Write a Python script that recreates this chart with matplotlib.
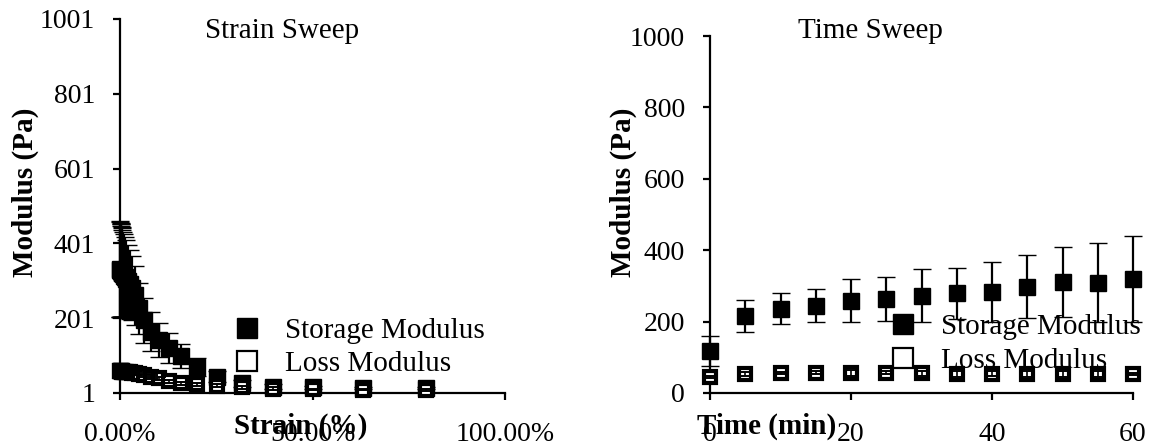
import matplotlib
matplotlib.use("Agg")
import matplotlib.pyplot as plt
from matplotlib.lines import Line2D

plt.rcParams['font.family'] = ['Liberation Serif', 'DejaVu Serif']

# strain sweep (strain in %, moduli in Pa)
strain = [0.1, 0.126, 0.158, 0.2, 0.251, 0.316, 0.398, 0.501, 0.631, 0.794,
          1.0, 1.26, 1.58, 2.0, 2.51, 3.16, 3.98, 5.01, 6.31, 7.94,
          10.0, 12.6, 15.8, 20.0, 25.1, 31.6, 39.8, 50.1, 63.1, 79.4]
strain_storage = [332, 331, 330, 329, 328, 326, 325, 323, 321, 318,
                  315, 311, 306, 300, 292, 282, 262, 228, 195, 165,
                  142, 122, 100, 70, 45, 27, 18, 16, 15, 14]
strain_storage_err = [128, 127, 126, 125, 124, 122, 121, 119, 117, 114,
                      111, 107, 103, 98, 92, 86, 78, 68, 60, 52,
                      46, 40, 33, 24, 15, 9, 6, 4, 3, 3]
strain_loss = [59, 59, 59, 59, 59, 59, 59, 59, 58, 58,
               58, 58, 57, 57, 56, 55, 54, 53, 48, 44,
               40, 33, 27, 24, 21, 16, 13, 11, 10, 9]
strain_loss_err = [6, 6, 6, 6, 6, 6, 6, 6, 6, 6,
                   6, 6, 5, 5, 5, 5, 5, 5, 5, 5,
                   5, 4, 4, 4, 4, 3, 3, 2, 2, 2]

# time sweep (time in min, moduli in Pa)
time = [0, 5, 10, 15, 20, 25, 30, 35, 40, 45, 50, 55, 60]
time_storage = [118, 216, 236, 245, 259, 263, 273, 279, 284, 298, 311, 309, 320]
time_storage_err = [42, 45, 44, 47, 60, 62, 75, 72, 84, 89, 97, 111, 121]
time_loss = [45, 53, 56, 57, 57, 57, 56, 54, 54, 53, 53, 54, 53]
time_loss_err = [3, 5, 4, 4, 8, 5, 7, 8, 7, 8, 8, 8, 3]

W, H = 1152, 446
fig = plt.figure(figsize=(W / 100, H / 100), dpi=100)
ax1 = fig.add_axes([120 / W, 1 - 393 / H, 385 / W, 374 / H])
ax2 = fig.add_axes([710 / W, 1 - 393 / H, 423 / W, 357 / H])

FS = 20


def style_axes(ax):
    for side in ('top', 'right'):
        ax.spines[side].set_visible(False)
    for side in ('left', 'bottom'):
        ax.spines[side].set_linewidth(1.6)
    ax.tick_params(axis='both', direction='out', length=5, width=1.6,
                   labelsize=FS)
    ax.tick_params(axis='y', pad=13)
    ax.tick_params(axis='x', pad=16)


def draw_series(ax, x, g1, e1, g2, e2):
    ax.errorbar(x, g1, yerr=e1, fmt='s', color='black', ms=11, mew=1,
                elinewidth=1.6, capsize=6.5, capthick=1.8, zorder=3,
                clip_on=False)
    ax.plot(x, g2, 's', ms=9, mfc='white', mec='black', mew=3, zorder=4,
            clip_on=False)
    ax.errorbar(x, g2, yerr=e2, fmt='none', ecolor='black', elinewidth=1.2,
                capsize=5, capthick=1.4, zorder=5, clip_on=False)


def add_legend(ax, anchor):
    handles = [
        Line2D([], [], ls='none', marker='s', ms=15, color='black'),
        Line2D([], [], ls='none', marker='s', ms=14, mfc='white',
               mec='black', mew=1.6),
    ]
    ax.legend(handles, ['Storage Modulus', 'Loss Modulus'], loc='center left',
              bbox_to_anchor=anchor, frameon=False, fontsize=21,
              handlelength=1.0, handletextpad=0.8, labelspacing=0.25,
              borderpad=0, borderaxespad=0)


style_axes(ax1)
draw_series(ax1, strain, strain_storage, strain_storage_err,
            strain_loss, strain_loss_err)
ax1.set_xlim(0, 100)
ax1.set_ylim(1, 1001)
ax1.set_xticks([0, 50, 100])
ax1.set_xticklabels([f'{v:.2f}%' for v in (0, 50, 100)])
ax1.set_yticks([1, 201, 401, 601, 801, 1001])
add_legend(ax1, (0.292, 0.122))

style_axes(ax2)
draw_series(ax2, time, time_storage, time_storage_err,
            time_loss, time_loss_err)
ax2.set_xlim(0, 60)
ax2.set_ylim(0, 1000)
ax2.set_xticks([0, 20, 40, 60])
ax2.set_yticks([0, 200, 400, 600, 800, 1000])
add_legend(ax2, (0.422, 0.137))

# titles and axis labels
fig.text(282 / W, 1 - 31 / H, 'Strain Sweep', fontsize=21,
         ha='center', va='center')
fig.text(870 / W, 1 - 31 / H, 'Time Sweep', fontsize=21,
         ha='center', va='center')
fig.text(25 / W, 1 - 192 / H, 'Modulus (Pa)', fontsize=21,
         fontweight='bold', rotation=90, ha='center', va='center')
fig.text(623 / W, 1 - 192 / H, 'Modulus (Pa)', fontsize=21,
         fontweight='bold', rotation=90, ha='center', va='center')
fig.text(301 / W, 1 - 426 / H, 'Strain (%)', fontsize=21,
         fontweight='bold', ha='center', va='center')
fig.text(767 / W, 1 - 426 / H, 'Time (min)', fontsize=21,
         fontweight='bold', ha='center', va='center')

fig.savefig('out.png', dpi=100)
